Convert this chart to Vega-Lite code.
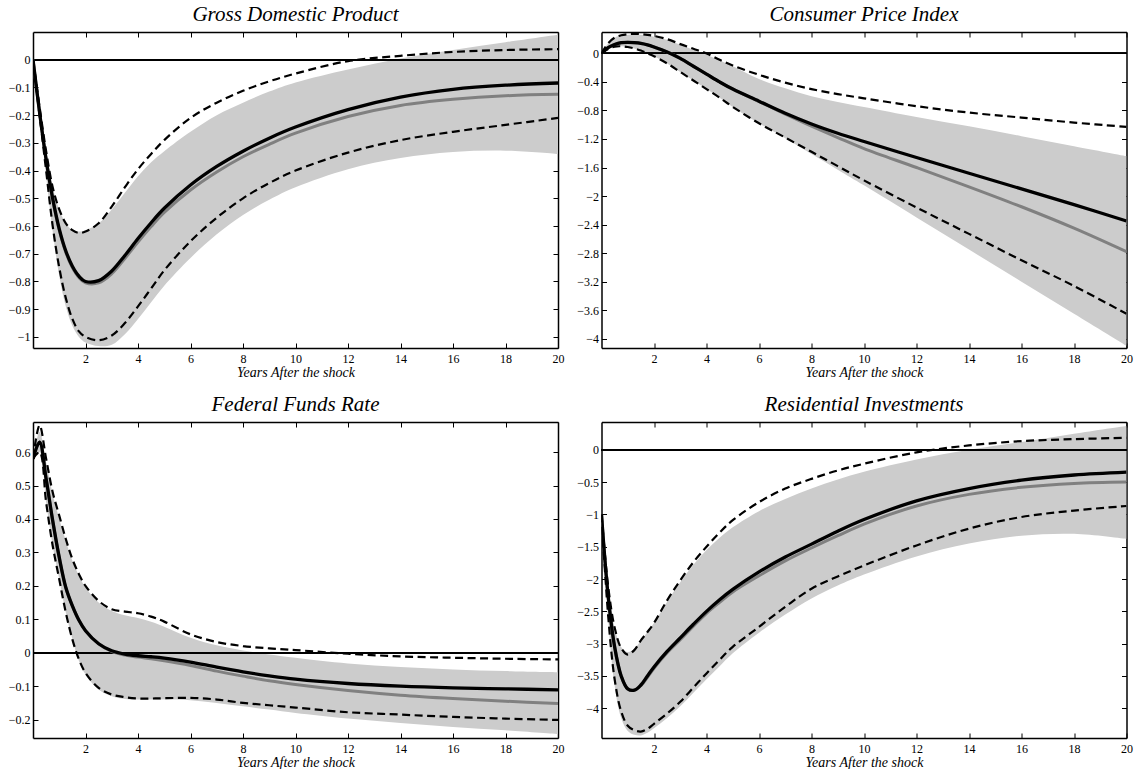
{
  "$schema": "https://vega.github.io/schema/vega-lite/v6.json",
  "background": "white",
  "padding": {"left": 8, "top": 3, "right": 5, "bottom": 0},
  "columns": 2,
  "spacing": {"row": 74, "column": 43.5},
  "bounds": "flush",
  "datasets": {
    "gdp": [
      {"x":0,"b":0,"g":0,"du":0,"dl":0,"bu":0,"bl":0},
      {"x":0.25,"b":-0.19,"g":-0.19,"du":-0.17,"dl":-0.2,"bu":-0.17,"bl":-0.21},
      {"x":0.5,"b":-0.36,"g":-0.36,"du":-0.33,"dl":-0.4,"bu":-0.33,"bl":-0.42},
      {"x":0.75,"b":-0.5,"g":-0.505,"du":-0.46,"dl":-0.6,"bu":-0.46,"bl":-0.62},
      {"x":1,"b":-0.61,"g":-0.615,"du":-0.54,"dl":-0.75,"bu":-0.54,"bl":-0.78},
      {"x":1.25,"b":-0.69,"g":-0.695,"du":-0.59,"dl":-0.86,"bu":-0.59,"bl":-0.89},
      {"x":1.5,"b":-0.745,"g":-0.75,"du":-0.615,"dl":-0.935,"bu":-0.615,"bl":-0.96},
      {"x":1.75,"b":-0.781,"g":-0.786,"du":-0.625,"dl":-0.98,"bu":-0.62,"bl":-1.0},
      {"x":2,"b":-0.8,"g":-0.805,"du":-0.62,"dl":-1.0,"bu":-0.615,"bl":-1.02},
      {"x":2.5,"b":-0.797,"g":-0.805,"du":-0.59,"dl":-1.012,"bu":-0.59,"bl":-1.033},
      {"x":3,"b":-0.762,"g":-0.772,"du":-0.53,"dl":-0.995,"bu":-0.54,"bl":-1.028},
      {"x":3.5,"b":-0.706,"g":-0.717,"du":-0.46,"dl":-0.95,"bu":-0.48,"bl":-0.99},
      {"x":4,"b":-0.645,"g":-0.658,"du":-0.395,"dl":-0.89,"bu":-0.42,"bl":-0.935},
      {"x":4.5,"b":-0.588,"g":-0.602,"du":-0.34,"dl":-0.825,"bu":-0.37,"bl":-0.875},
      {"x":5,"b":-0.536,"g":-0.551,"du":-0.29,"dl":-0.76,"bu":-0.33,"bl":-0.815},
      {"x":6,"b":-0.452,"g":-0.47,"du":-0.21,"dl":-0.655,"bu":-0.26,"bl":-0.715},
      {"x":7,"b":-0.385,"g":-0.405,"du":-0.155,"dl":-0.57,"bu":-0.2,"bl":-0.63},
      {"x":8,"b":-0.33,"g":-0.35,"du":-0.112,"dl":-0.5,"bu":-0.155,"bl":-0.56},
      {"x":9,"b":-0.283,"g":-0.305,"du":-0.078,"dl":-0.445,"bu":-0.115,"bl":-0.505},
      {"x":10,"b":-0.243,"g":-0.265,"du":-0.05,"dl":-0.4,"bu":-0.082,"bl":-0.46},
      {"x":12,"b":-0.18,"g":-0.205,"du":-0.005,"dl":-0.335,"bu":-0.035,"bl":-0.395},
      {"x":14,"b":-0.135,"g":-0.165,"du":0.014,"dl":-0.29,"bu":0.004,"bl":-0.355},
      {"x":16,"b":-0.107,"g":-0.143,"du":0.028,"dl":-0.26,"bu":0.035,"bl":-0.333},
      {"x":18,"b":-0.092,"g":-0.13,"du":0.035,"dl":-0.235,"bu":0.063,"bl":-0.328},
      {"x":20,"b":-0.084,"g":-0.125,"du":0.038,"dl":-0.21,"bu":0.09,"bl":-0.34}
    ],
    "cpi": [
      {"x":0,"b":0,"g":0,"du":0,"dl":0,"bu":0,"bl":0},
      {"x":0.25,"b":0.08,"g":0.08,"du":0.14,"dl":0.06,"bu":0.14,"bl":0.06},
      {"x":0.5,"b":0.125,"g":0.125,"du":0.22,"dl":0.095,"bu":0.22,"bl":0.095},
      {"x":0.75,"b":0.15,"g":0.15,"du":0.255,"dl":0.1,"bu":0.25,"bl":0.1},
      {"x":1,"b":0.155,"g":0.155,"du":0.27,"dl":0.09,"bu":0.26,"bl":0.09},
      {"x":1.25,"b":0.15,"g":0.15,"du":0.275,"dl":0.07,"bu":0.265,"bl":0.07},
      {"x":1.5,"b":0.14,"g":0.14,"du":0.27,"dl":0.04,"bu":0.26,"bl":0.04},
      {"x":1.75,"b":0.12,"g":0.12,"du":0.26,"dl":0.0,"bu":0.25,"bl":0.0},
      {"x":2,"b":0.09,"g":0.09,"du":0.245,"dl":-0.04,"bu":0.235,"bl":-0.04},
      {"x":2.5,"b":0.02,"g":0.02,"du":0.2,"dl":-0.14,"bu":0.19,"bl":-0.14},
      {"x":3,"b":-0.07,"g":-0.07,"du":0.13,"dl":-0.26,"bu":0.12,"bl":-0.26},
      {"x":3.5,"b":-0.18,"g":-0.18,"du":0.065,"dl":-0.38,"bu":0.05,"bl":-0.38},
      {"x":4,"b":-0.29,"g":-0.29,"du":0.0,"dl":-0.5,"bu":-0.02,"bl":-0.5},
      {"x":4.5,"b":-0.4,"g":-0.4,"du":-0.09,"dl":-0.62,"bu":-0.1,"bl":-0.62},
      {"x":5,"b":-0.5,"g":-0.5,"du":-0.17,"dl":-0.75,"bu":-0.18,"bl":-0.75},
      {"x":6,"b":-0.67,"g":-0.675,"du":-0.3,"dl":-0.98,"bu":-0.36,"bl":-0.98},
      {"x":7,"b":-0.84,"g":-0.85,"du":-0.41,"dl":-1.18,"bu":-0.49,"bl":-1.19},
      {"x":8,"b":-0.99,"g":-1.02,"du":-0.5,"dl":-1.38,"bu":-0.6,"bl":-1.41},
      {"x":9,"b":-1.12,"g":-1.18,"du":-0.57,"dl":-1.58,"bu":-0.68,"bl":-1.63},
      {"x":10,"b":-1.235,"g":-1.335,"du":-0.63,"dl":-1.78,"bu":-0.75,"bl":-1.85},
      {"x":12,"b":-1.46,"g":-1.6,"du":-0.74,"dl":-2.16,"bu":-0.89,"bl":-2.3},
      {"x":14,"b":-1.68,"g":-1.87,"du":-0.83,"dl":-2.53,"bu":-1.02,"bl":-2.75},
      {"x":16,"b":-1.9,"g":-2.15,"du":-0.9,"dl":-2.9,"bu":-1.16,"bl":-3.2},
      {"x":18,"b":-2.12,"g":-2.45,"du":-0.97,"dl":-3.26,"bu":-1.3,"bl":-3.65},
      {"x":20,"b":-2.35,"g":-2.78,"du":-1.03,"dl":-3.65,"bu":-1.44,"bl":-4.1}
    ],
    "ffr": [
      {"x":0,"b":0.58,"g":0.58,"du":0.58,"dl":0.58,"bu":0.58,"bl":0.58},
      {"x":0.25,"b":0.63,"g":0.63,"du":0.68,"dl":0.6,"bu":0.66,"bl":0.6},
      {"x":0.5,"b":0.52,"g":0.52,"du":0.58,"dl":0.45,"bu":0.57,"bl":0.45},
      {"x":0.75,"b":0.395,"g":0.395,"du":0.48,"dl":0.32,"bu":0.475,"bl":0.32},
      {"x":1,"b":0.285,"g":0.285,"du":0.41,"dl":0.22,"bu":0.4,"bl":0.22},
      {"x":1.25,"b":0.195,"g":0.195,"du":0.34,"dl":0.12,"bu":0.335,"bl":0.12},
      {"x":1.5,"b":0.14,"g":0.14,"du":0.28,"dl":0.04,"bu":0.275,"bl":0.04},
      {"x":1.75,"b":0.097,"g":0.097,"du":0.235,"dl":-0.02,"bu":0.23,"bl":-0.025},
      {"x":2,"b":0.066,"g":0.066,"du":0.2,"dl":-0.06,"bu":0.195,"bl":-0.065},
      {"x":2.5,"b":0.027,"g":0.027,"du":0.155,"dl":-0.105,"bu":0.15,"bl":-0.11},
      {"x":3,"b":0.006,"g":0.004,"du":0.13,"dl":-0.125,"bu":0.125,"bl":-0.13},
      {"x":3.5,"b":-0.004,"g":-0.007,"du":0.123,"dl":-0.133,"bu":0.112,"bl":-0.138},
      {"x":4,"b":-0.009,"g":-0.013,"du":0.118,"dl":-0.137,"bu":0.104,"bl":-0.14},
      {"x":4.5,"b":-0.012,"g":-0.018,"du":0.108,"dl":-0.137,"bu":0.093,"bl":-0.14},
      {"x":5,"b":-0.016,"g":-0.024,"du":0.093,"dl":-0.136,"bu":0.078,"bl":-0.14},
      {"x":6,"b":-0.028,"g":-0.038,"du":0.055,"dl":-0.135,"bu":0.045,"bl":-0.142},
      {"x":7,"b":-0.043,"g":-0.055,"du":0.032,"dl":-0.14,"bu":0.022,"bl":-0.15},
      {"x":8,"b":-0.057,"g":-0.07,"du":0.02,"dl":-0.15,"bu":0.007,"bl":-0.16},
      {"x":9,"b":-0.069,"g":-0.084,"du":0.013,"dl":-0.157,"bu":-0.005,"bl":-0.17},
      {"x":10,"b":-0.079,"g":-0.095,"du":0.008,"dl":-0.164,"bu":-0.015,"bl":-0.18},
      {"x":12,"b":-0.092,"g":-0.113,"du":-0.003,"dl":-0.178,"bu":-0.032,"bl":-0.197},
      {"x":14,"b":-0.1,"g":-0.127,"du":-0.011,"dl":-0.185,"bu":-0.043,"bl":-0.21},
      {"x":16,"b":-0.105,"g":-0.137,"du":-0.015,"dl":-0.192,"bu":-0.05,"bl":-0.222},
      {"x":18,"b":-0.108,"g":-0.145,"du":-0.018,"dl":-0.197,"bu":-0.055,"bl":-0.232},
      {"x":20,"b":-0.111,"g":-0.152,"du":-0.02,"dl":-0.201,"bu":-0.058,"bl":-0.243}
    ],
    "ri": [
      {"x":0,"b":-1.0,"g":-1.0,"du":-1.0,"dl":-1.0,"bu":-1.0,"bl":-1.0},
      {"x":0.25,"b":-2.25,"g":-2.25,"du":-2.1,"dl":-2.55,"bu":-2.1,"bl":-2.6},
      {"x":0.5,"b":-3.05,"g":-3.05,"du":-2.75,"dl":-3.55,"bu":-2.75,"bl":-3.65},
      {"x":0.75,"b":-3.5,"g":-3.5,"du":-3.07,"dl":-4.05,"bu":-3.05,"bl":-4.15},
      {"x":1,"b":-3.7,"g":-3.7,"du":-3.17,"dl":-4.27,"bu":-3.13,"bl":-4.35},
      {"x":1.25,"b":-3.72,"g":-3.72,"du":-3.1,"dl":-4.34,"bu":-3.08,"bl":-4.41},
      {"x":1.5,"b":-3.64,"g":-3.65,"du":-2.95,"dl":-4.36,"bu":-2.95,"bl":-4.42},
      {"x":1.75,"b":-3.5,"g":-3.52,"du":-2.82,"dl":-4.32,"bu":-2.82,"bl":-4.38},
      {"x":2,"b":-3.36,"g":-3.38,"du":-2.68,"dl":-4.24,"bu":-2.68,"bl":-4.31},
      {"x":2.5,"b":-3.12,"g":-3.14,"du":-2.33,"dl":-4.08,"bu":-2.35,"bl":-4.15},
      {"x":3,"b":-2.91,"g":-2.94,"du":-2.02,"dl":-3.9,"bu":-2.05,"bl":-3.97},
      {"x":3.5,"b":-2.7,"g":-2.73,"du":-1.74,"dl":-3.68,"bu":-1.78,"bl":-3.76},
      {"x":4,"b":-2.5,"g":-2.53,"du":-1.5,"dl":-3.46,"bu":-1.55,"bl":-3.55},
      {"x":4.5,"b":-2.32,"g":-2.36,"du":-1.28,"dl":-3.25,"bu":-1.36,"bl":-3.35},
      {"x":5,"b":-2.16,"g":-2.2,"du":-1.09,"dl":-3.05,"bu":-1.2,"bl":-3.15},
      {"x":6,"b":-1.89,"g":-1.95,"du":-0.81,"dl":-2.74,"bu":-0.95,"bl":-2.83},
      {"x":7,"b":-1.66,"g":-1.72,"du":-0.6,"dl":-2.43,"bu":-0.76,"bl":-2.55},
      {"x":8,"b":-1.46,"g":-1.52,"du":-0.45,"dl":-2.15,"bu":-0.6,"bl":-2.3},
      {"x":9,"b":-1.26,"g":-1.33,"du":-0.32,"dl":-1.96,"bu":-0.46,"bl":-2.1},
      {"x":10,"b":-1.08,"g":-1.15,"du":-0.216,"dl":-1.79,"bu":-0.34,"bl":-1.93},
      {"x":12,"b":-0.79,"g":-0.87,"du":-0.04,"dl":-1.48,"bu":-0.15,"bl":-1.65},
      {"x":14,"b":-0.6,"g":-0.69,"du":0.067,"dl":-1.22,"bu":0.0,"bl":-1.45},
      {"x":16,"b":-0.47,"g":-0.58,"du":0.134,"dl":-1.04,"bu":0.12,"bl":-1.33},
      {"x":18,"b":-0.39,"g":-0.52,"du":0.165,"dl":-0.94,"bu":0.25,"bl":-1.3},
      {"x":20,"b":-0.345,"g":-0.5,"du":0.185,"dl":-0.87,"bu":0.37,"bl":-1.38}
    ]
  },
  "concat": [
    {
      "width": 525, "height": 316,
      "data": {"name": "gdp"},
      "title": "Gross Domestic Product",
      "layer": [
        {"mark": {"type": "area", "color": "#cccccc", "interpolate": "catmull-rom", "clip": true},
         "encoding": {
           "x": {"field": "x", "type": "quantitative", "scale": {"domain": [0, 20], "nice": false, "zero": false},
                 "axis": {"orient": "bottom", "values": [2,4,6,8,10,12,14,16,18,20], "title": "Years After the shock", "labelPadding": 10, "titlePadding": 1}},
           "y": {"field": "bl", "type": "quantitative", "scale": {"domain": [-1.04, 0.1], "nice": false, "zero": false},
                 "axis": {"orient": "left", "values": [0,-0.1,-0.2,-0.3,-0.4,-0.5,-0.6,-0.7,-0.8,-0.9,-1], "format": "~g", "title": null, "labelPadding": 8}},
           "y2": {"field": "bu"}}},
        {"mark": {"type": "rule", "color": "black", "strokeWidth": 1},
         "encoding": {"y": {"datum": 0, "type": "quantitative", "scale": {"domain": [-1.04, 0.1], "nice": false, "zero": false}, "axis": null}}},
        {"mark": {"type": "line", "color": "#808080", "strokeWidth": 3, "interpolate": "catmull-rom", "clip": true},
         "encoding": {"x": {"field": "x", "type": "quantitative", "scale": {"domain": [0, 20], "nice": false, "zero": false}, "axis": null},
                      "y": {"field": "g", "type": "quantitative", "scale": {"domain": [-1.04, 0.1], "nice": false, "zero": false}, "axis": null}}},
        {"mark": {"type": "line", "color": "black", "strokeWidth": 3.3, "interpolate": "catmull-rom", "clip": true},
         "encoding": {"x": {"field": "x", "type": "quantitative", "scale": {"domain": [0, 20], "nice": false, "zero": false}, "axis": null},
                      "y": {"field": "b", "type": "quantitative", "scale": {"domain": [-1.04, 0.1], "nice": false, "zero": false}, "axis": null}}},
        {"mark": {"type": "line", "color": "black", "strokeWidth": 2.2, "strokeDash": [8, 4.5], "interpolate": "catmull-rom", "clip": true},
         "encoding": {"x": {"field": "x", "type": "quantitative", "scale": {"domain": [0, 20], "nice": false, "zero": false}, "axis": null},
                      "y": {"field": "du", "type": "quantitative", "scale": {"domain": [-1.04, 0.1], "nice": false, "zero": false}, "axis": null}}},
        {"mark": {"type": "line", "color": "black", "strokeWidth": 2.2, "strokeDash": [8, 4.5], "interpolate": "catmull-rom", "clip": true},
         "encoding": {"x": {"field": "x", "type": "quantitative", "scale": {"domain": [0, 20], "nice": false, "zero": false}, "axis": null},
                      "y": {"field": "dl", "type": "quantitative", "scale": {"domain": [-1.04, 0.1], "nice": false, "zero": false}, "axis": null}}},
        {"mark": {"type": "line", "opacity": 0},
         "encoding": {"x": {"field": "x", "type": "quantitative", "scale": {"domain": [0, 20], "nice": false, "zero": false},
                            "axis": {"orient": "top", "values": [2,4,6,8,10,12,14,16,18,20], "labels": false, "title": null}},
                      "y": {"field": "b", "type": "quantitative", "scale": {"domain": [-1.04, 0.1], "nice": false, "zero": false},
                            "axis": {"orient": "right", "values": [0,-0.1,-0.2,-0.3,-0.4,-0.5,-0.6,-0.7,-0.8,-0.9,-1], "labels": false, "title": null}}}}
      ],
      "resolve": {"axis": {"x": "independent", "y": "independent"}}
    },
    {
      "width": 525, "height": 316,
      "data": {"name": "cpi"},
      "title": "Consumer Price Index",
      "layer": [
        {"mark": {"type": "area", "color": "#cccccc", "interpolate": "catmull-rom", "clip": true},
         "encoding": {
           "x": {"field": "x", "type": "quantitative", "scale": {"domain": [0, 20], "nice": false, "zero": false},
                 "axis": {"orient": "bottom", "values": [2,4,6,8,10,12,14,16,18,20], "title": "Years After the shock", "labelPadding": 10, "titlePadding": 1}},
           "y": {"field": "bl", "type": "quantitative", "scale": {"domain": [-4.13, 0.3], "nice": false, "zero": false},
                 "axis": {"orient": "left", "values": [0,-0.4,-0.8,-1.2,-1.6,-2,-2.4,-2.8,-3.2,-3.6,-4], "format": "~g", "title": null, "labelPadding": 8}},
           "y2": {"field": "bu"}}},
        {"mark": {"type": "rule", "color": "black", "strokeWidth": 1},
         "encoding": {"y": {"datum": 0, "type": "quantitative", "scale": {"domain": [-4.13, 0.3], "nice": false, "zero": false}, "axis": null}}},
        {"mark": {"type": "line", "color": "#808080", "strokeWidth": 3, "interpolate": "catmull-rom", "clip": true},
         "encoding": {"x": {"field": "x", "type": "quantitative", "scale": {"domain": [0, 20], "nice": false, "zero": false}, "axis": null},
                      "y": {"field": "g", "type": "quantitative", "scale": {"domain": [-4.13, 0.3], "nice": false, "zero": false}, "axis": null}}},
        {"mark": {"type": "line", "color": "black", "strokeWidth": 3.3, "interpolate": "catmull-rom", "clip": true},
         "encoding": {"x": {"field": "x", "type": "quantitative", "scale": {"domain": [0, 20], "nice": false, "zero": false}, "axis": null},
                      "y": {"field": "b", "type": "quantitative", "scale": {"domain": [-4.13, 0.3], "nice": false, "zero": false}, "axis": null}}},
        {"mark": {"type": "line", "color": "black", "strokeWidth": 2.2, "strokeDash": [8, 4.5], "interpolate": "catmull-rom", "clip": true},
         "encoding": {"x": {"field": "x", "type": "quantitative", "scale": {"domain": [0, 20], "nice": false, "zero": false}, "axis": null},
                      "y": {"field": "du", "type": "quantitative", "scale": {"domain": [-4.13, 0.3], "nice": false, "zero": false}, "axis": null}}},
        {"mark": {"type": "line", "color": "black", "strokeWidth": 2.2, "strokeDash": [8, 4.5], "interpolate": "catmull-rom", "clip": true},
         "encoding": {"x": {"field": "x", "type": "quantitative", "scale": {"domain": [0, 20], "nice": false, "zero": false}, "axis": null},
                      "y": {"field": "dl", "type": "quantitative", "scale": {"domain": [-4.13, 0.3], "nice": false, "zero": false}, "axis": null}}},
        {"mark": {"type": "line", "opacity": 0},
         "encoding": {"x": {"field": "x", "type": "quantitative", "scale": {"domain": [0, 20], "nice": false, "zero": false},
                            "axis": {"orient": "top", "values": [2,4,6,8,10,12,14,16,18,20], "labels": false, "title": null}},
                      "y": {"field": "b", "type": "quantitative", "scale": {"domain": [-4.13, 0.3], "nice": false, "zero": false},
                            "axis": {"orient": "right", "values": [0,-0.4,-0.8,-1.2,-1.6,-2,-2.4,-2.8,-3.2,-3.6,-4], "labels": false, "title": null}}}}
      ],
      "resolve": {"axis": {"x": "independent", "y": "independent"}}
    },
    {
      "width": 525, "height": 316,
      "data": {"name": "ffr"},
      "title": "Federal Funds Rate",
      "layer": [
        {"mark": {"type": "area", "color": "#cccccc", "interpolate": "catmull-rom", "clip": true},
         "encoding": {
           "x": {"field": "x", "type": "quantitative", "scale": {"domain": [0, 20], "nice": false, "zero": false},
                 "axis": {"orient": "bottom", "values": [2,4,6,8,10,12,14,16,18,20], "title": "Years After the shock", "labelPadding": 10, "titlePadding": 1}},
           "y": {"field": "bl", "type": "quantitative", "scale": {"domain": [-0.255, 0.69], "nice": false, "zero": false},
                 "axis": {"orient": "left", "values": [-0.2,-0.1,0,0.1,0.2,0.3,0.4,0.5,0.6], "format": "~g", "title": null, "labelPadding": 8}},
           "y2": {"field": "bu"}}},
        {"mark": {"type": "rule", "color": "black", "strokeWidth": 1},
         "encoding": {"y": {"datum": 0, "type": "quantitative", "scale": {"domain": [-0.255, 0.69], "nice": false, "zero": false}, "axis": null}}},
        {"mark": {"type": "line", "color": "#808080", "strokeWidth": 3, "interpolate": "catmull-rom", "clip": true},
         "encoding": {"x": {"field": "x", "type": "quantitative", "scale": {"domain": [0, 20], "nice": false, "zero": false}, "axis": null},
                      "y": {"field": "g", "type": "quantitative", "scale": {"domain": [-0.255, 0.69], "nice": false, "zero": false}, "axis": null}}},
        {"mark": {"type": "line", "color": "black", "strokeWidth": 3.3, "interpolate": "catmull-rom", "clip": true},
         "encoding": {"x": {"field": "x", "type": "quantitative", "scale": {"domain": [0, 20], "nice": false, "zero": false}, "axis": null},
                      "y": {"field": "b", "type": "quantitative", "scale": {"domain": [-0.255, 0.69], "nice": false, "zero": false}, "axis": null}}},
        {"mark": {"type": "line", "color": "black", "strokeWidth": 2.2, "strokeDash": [8, 4.5], "interpolate": "catmull-rom", "clip": true},
         "encoding": {"x": {"field": "x", "type": "quantitative", "scale": {"domain": [0, 20], "nice": false, "zero": false}, "axis": null},
                      "y": {"field": "du", "type": "quantitative", "scale": {"domain": [-0.255, 0.69], "nice": false, "zero": false}, "axis": null}}},
        {"mark": {"type": "line", "color": "black", "strokeWidth": 2.2, "strokeDash": [8, 4.5], "interpolate": "catmull-rom", "clip": true},
         "encoding": {"x": {"field": "x", "type": "quantitative", "scale": {"domain": [0, 20], "nice": false, "zero": false}, "axis": null},
                      "y": {"field": "dl", "type": "quantitative", "scale": {"domain": [-0.255, 0.69], "nice": false, "zero": false}, "axis": null}}},
        {"mark": {"type": "line", "opacity": 0},
         "encoding": {"x": {"field": "x", "type": "quantitative", "scale": {"domain": [0, 20], "nice": false, "zero": false},
                            "axis": {"orient": "top", "values": [2,4,6,8,10,12,14,16,18,20], "labels": false, "title": null}},
                      "y": {"field": "b", "type": "quantitative", "scale": {"domain": [-0.255, 0.69], "nice": false, "zero": false},
                            "axis": {"orient": "right", "values": [-0.2,-0.1,0,0.1,0.2,0.3,0.4,0.5,0.6], "labels": false, "title": null}}}}
      ],
      "resolve": {"axis": {"x": "independent", "y": "independent"}}
    },
    {
      "width": 525, "height": 316,
      "data": {"name": "ri"},
      "title": "Residential Investments",
      "layer": [
        {"mark": {"type": "area", "color": "#cccccc", "interpolate": "catmull-rom", "clip": true},
         "encoding": {
           "x": {"field": "x", "type": "quantitative", "scale": {"domain": [0, 20], "nice": false, "zero": false},
                 "axis": {"orient": "bottom", "values": [2,4,6,8,10,12,14,16,18,20], "title": "Years After the shock", "labelPadding": 10, "titlePadding": 1}},
           "y": {"field": "bl", "type": "quantitative", "scale": {"domain": [-4.46, 0.43], "nice": false, "zero": false},
                 "axis": {"orient": "left", "values": [0,-0.5,-1,-1.5,-2,-2.5,-3,-3.5,-4], "format": "~g", "title": null, "labelPadding": 8}},
           "y2": {"field": "bu"}}},
        {"mark": {"type": "rule", "color": "black", "strokeWidth": 1},
         "encoding": {"y": {"datum": 0, "type": "quantitative", "scale": {"domain": [-4.46, 0.43], "nice": false, "zero": false}, "axis": null}}},
        {"mark": {"type": "line", "color": "#808080", "strokeWidth": 3, "interpolate": "catmull-rom", "clip": true},
         "encoding": {"x": {"field": "x", "type": "quantitative", "scale": {"domain": [0, 20], "nice": false, "zero": false}, "axis": null},
                      "y": {"field": "g", "type": "quantitative", "scale": {"domain": [-4.46, 0.43], "nice": false, "zero": false}, "axis": null}}},
        {"mark": {"type": "line", "color": "black", "strokeWidth": 3.3, "interpolate": "catmull-rom", "clip": true},
         "encoding": {"x": {"field": "x", "type": "quantitative", "scale": {"domain": [0, 20], "nice": false, "zero": false}, "axis": null},
                      "y": {"field": "b", "type": "quantitative", "scale": {"domain": [-4.46, 0.43], "nice": false, "zero": false}, "axis": null}}},
        {"mark": {"type": "line", "color": "black", "strokeWidth": 2.2, "strokeDash": [8, 4.5], "interpolate": "catmull-rom", "clip": true},
         "encoding": {"x": {"field": "x", "type": "quantitative", "scale": {"domain": [0, 20], "nice": false, "zero": false}, "axis": null},
                      "y": {"field": "du", "type": "quantitative", "scale": {"domain": [-4.46, 0.43], "nice": false, "zero": false}, "axis": null}}},
        {"mark": {"type": "line", "color": "black", "strokeWidth": 2.2, "strokeDash": [8, 4.5], "interpolate": "catmull-rom", "clip": true},
         "encoding": {"x": {"field": "x", "type": "quantitative", "scale": {"domain": [0, 20], "nice": false, "zero": false}, "axis": null},
                      "y": {"field": "dl", "type": "quantitative", "scale": {"domain": [-4.46, 0.43], "nice": false, "zero": false}, "axis": null}}},
        {"mark": {"type": "line", "opacity": 0},
         "encoding": {"x": {"field": "x", "type": "quantitative", "scale": {"domain": [0, 20], "nice": false, "zero": false},
                            "axis": {"orient": "top", "values": [2,4,6,8,10,12,14,16,18,20], "labels": false, "title": null}},
                      "y": {"field": "b", "type": "quantitative", "scale": {"domain": [-4.46, 0.43], "nice": false, "zero": false},
                            "axis": {"orient": "right", "values": [0,-0.5,-1,-1.5,-2,-2.5,-3,-3.5,-4], "labels": false, "title": null}}}}
      ],
      "resolve": {"axis": {"x": "independent", "y": "independent"}}
    }
  ],
  "config": {
    "view": {"stroke": null},
    "axis": {
      "domain": true, "domainColor": "black", "domainWidth": 1.5,
      "grid": false, "ticks": true, "tickColor": "black", "tickSize": -5, "tickWidth": 1,
      "labelFont": "Liberation Serif", "labelFontSize": 12, "labelColor": "black",
      "labelFlush": false, "labelOverlap": false, "labelBound": false,
      "titleFont": "Liberation Serif", "titleFontSize": 14, "titleFontStyle": "italic",
      "titleFontWeight": "normal", "titleColor": "black", "zindex": 1
    },
    "title": {
      "font": "Liberation Serif", "fontSize": 21, "fontStyle": "italic", "fontWeight": "normal",
      "color": "black", "anchor": "middle", "frame": "group", "offset": 7, "baseline": "alphabetic"
    }
  }
}
